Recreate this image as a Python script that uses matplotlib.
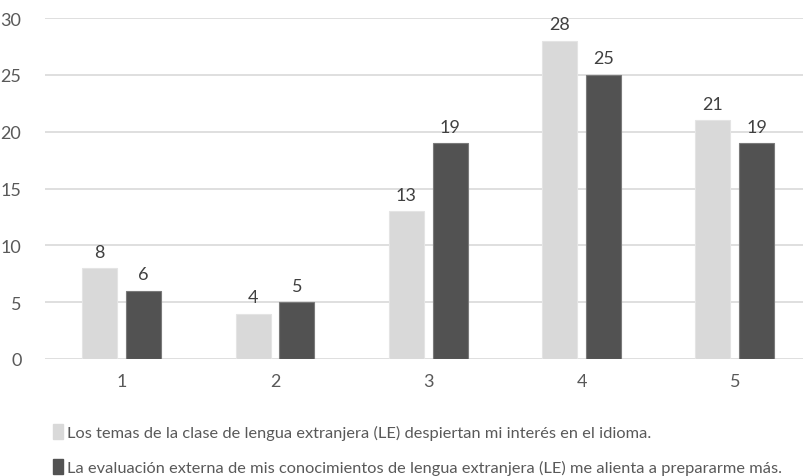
import matplotlib
matplotlib.use("Agg")
import matplotlib.pyplot as plt
from matplotlib.patches import Patch
import numpy as np

categories = ["1", "2", "3", "4", "5"]
temas = [8, 4, 13, 28, 21]
evaluacion = [6, 5, 19, 25, 19]
series_labels = [
    "Los temas de la clase de lengua extranjera (LE) despiertan mi interés en el idioma.",
    "La evaluación externa de mis conocimientos de lengua extranjera (LE) me alienta a prepararme más.",
]
yticks = [0, 5, 10, 15, 20, 25, 30]

plt.rcParams["font.family"] = ["Liberation Sans Narrow", "Lato", "DejaVu Sans"]
text_color = "#595959"
light = "#d9d9d9"
dark = "#525252"

fig = plt.figure(figsize=(8.04, 4.77), dpi=100)
ax = fig.add_axes([45 / 804, 1 - 360 / 477, (811.5 - 45) / 804, (360 - 19) / 477])

x = np.arange(len(categories))
w = 0.228
off = 0.143
b1 = ax.bar(x - off, temas, w, color=light, edgecolor="#e4e4e4", linewidth=0.8, zorder=3)
b2 = ax.bar(x + off, evaluacion, w, color=dark, edgecolor="#7a7a7a", linewidth=0.8, zorder=3)

for bars, vals in ((b1, temas), (b2, evaluacion)):
    for rect, v in zip(bars, vals):
        ax.annotate(str(v), (rect.get_x() + rect.get_width() / 2, v),
                    xytext=(0, 6), textcoords="offset points",
                    ha="center", va="bottom", fontsize=13, color="#404040")

ax.set_xlim(-0.5, len(categories) - 0.5)
ax.set_ylim(0, 30)
ax.set_yticks(yticks)
ax.set_xticks(x)
ax.set_xticklabels(categories)
ax.tick_params(axis="both", length=0, labelsize=13, labelcolor=text_color)
ax.tick_params(axis="x", pad=10)
ax.tick_params(axis="y", pad=17)
ax.grid(axis="y", color="#d9d9d9", linewidth=1.2, zorder=0)
for s in ax.spines.values():
    s.set_visible(False)
ax.set_axisbelow(True)

handles = [Patch(facecolor=light, edgecolor=light), Patch(facecolor=dark, edgecolor=dark)]
fig.legend(handles, series_labels, loc="upper left", bbox_to_anchor=(45 / 804, 1 - 417 / 477),
           frameon=False, fontsize=11.8, labelcolor=text_color, handlelength=0.6,
           handleheight=1.0, handletextpad=0.25, labelspacing=1.15, borderpad=0)

fig.savefig("out.png", dpi=100)
